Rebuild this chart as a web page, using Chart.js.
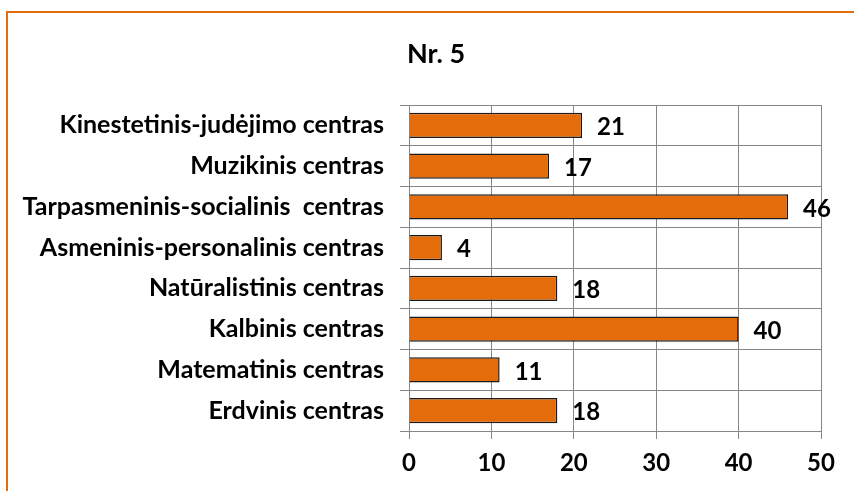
<!DOCTYPE html>
<html>
<head>
<meta charset="utf-8">
<script src="https://cdn.jsdelivr.net/npm/chart.js@4"></script>
<style>
  html, body { margin: 0; padding: 0; background: #fff; }
  #wrap { position: relative; width: 854px; height: 491px; overflow: hidden; }
  #frame { position: absolute; left: 6px; top: 11px; width: 900px; height: 520px;
           border: 2px solid #E46C0A; box-sizing: border-box; }
  canvas { position: absolute; left: 0; top: 0; }
</style>
</head>
<body>
<div id="wrap">
  <div id="frame"></div>
  <canvas id="centraiChart" width="854" height="491"></canvas>
</div>
<script>
const chartTitle = "Nr. 5";

const categories = [
  "Kinestetinis-judėjimo centras",
  "Muzikinis centras",
  "Tarpasmeninis-socialinis  centras",
  "Asmeninis-personalinis centras",
  "Natūralistinis centras",
  "Kalbinis centras",
  "Matematinis centras",
  "Erdvinis centras"
];

const values = [21, 17, 46, 4, 18, 40, 11, 18];

const xTicks = [0, 10, 20, 30, 40, 50];

const FONT = "Lato, 'Open Sans', sans-serif";

// values at the end of each bar + the title
const extrasPlugin = {
  id: 'extras',
  afterDatasetsDraw(chart) {
    const c = chart.ctx;
    const meta = chart.getDatasetMeta(0);
    c.save();
    c.font = "bold 24px " + FONT;
    c.fillStyle = "#000";
    c.textAlign = "left";
    c.textBaseline = "middle";
    meta.data.forEach((bar, i) => {
      c.fillText(String(values[i]), bar.x + 15, bar.y + 2);
    });
    c.font = "bold 27px " + FONT;
    c.textAlign = "center";
    c.fillText(chartTitle, 436, 54);
    c.restore();
  }
};

const ctx = document.getElementById('centraiChart').getContext('2d');

new Chart(ctx, {
  type: 'bar',
  data: {
    labels: categories,
    datasets: [{
      data: values,
      backgroundColor: "#E46C0A",
      borderColor: "#1a1a1a",
      borderWidth: 1.5,
      categoryPercentage: 0.62,
      barPercentage: 1
    }]
  },
  options: {
    indexAxis: 'y',
    responsive: false,
    animation: false,
    layout: { padding: { left: 10, right: 33, top: 105, bottom: 0 } },
    plugins: {
      legend: { display: false },
      tooltip: { enabled: false }
    },
    scales: {
      x: {
        min: 0,
        max: 50,
        afterBuildTicks(scale) {
          scale.ticks = xTicks.map(v => ({ value: v }));
        },
        afterFit(scale) { scale.height = 60; },
        grid: { color: "#868686", lineWidth: 1, tickLength: 8 },
        border: { color: "#868686" },
        ticks: {
          color: "#000",
          padding: 10,
          font: { family: FONT, size: 24, weight: 'bold' }
        }
      },
      y: {
        afterFit(scale) { scale.width = 399; },
        grid: { color: "#868686", lineWidth: 1, tickLength: 9, offset: true },
        border: { color: "#868686" },
        ticks: {
          color: "#000",
          padding: 16,
          font: { family: FONT, size: 25, weight: 'bold' }
        }
      }
    }
  },
  plugins: [extrasPlugin]
});
</script>
</body>
</html>
